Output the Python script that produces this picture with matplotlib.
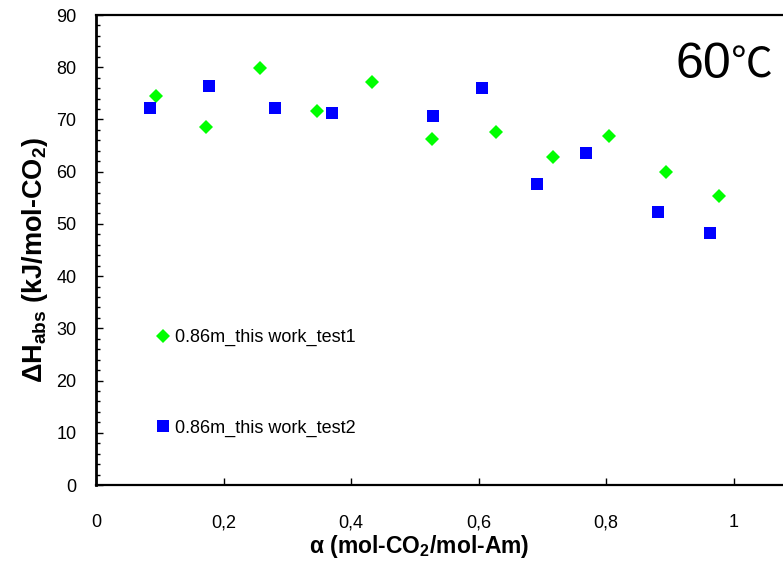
import matplotlib
matplotlib.use("Agg")
import matplotlib.pyplot as plt
from matplotlib.ticker import MultipleLocator, FuncFormatter

plt.rcParams['font.family'] = ['Liberation Sans', 'DejaVu Sans']
plt.rcParams['mathtext.fontset'] = 'custom'
plt.rcParams['mathtext.rm'] = 'Liberation Sans:bold'
plt.rcParams['mathtext.bf'] = 'Liberation Sans:bold'
plt.rcParams['mathtext.it'] = 'Liberation Sans:bold'

# loading (mol CO2 / mol amine) and absorption heat (kJ/mol CO2)
alpha_test1 = [0.094, 0.173, 0.257, 0.346, 0.433, 0.527, 0.628, 0.717, 0.804, 0.894, 0.977]
dh_test1 = [74.5, 68.5, 79.9, 71.6, 77.1, 66.3, 67.6, 62.8, 66.9, 60.0, 55.3]
alpha_test2 = [0.085, 0.177, 0.280, 0.370, 0.529, 0.605, 0.692, 0.768, 0.881, 0.963]
dh_test2 = [72.1, 76.5, 72.1, 71.2, 70.7, 76.1, 57.6, 63.6, 52.2, 48.3]

label1 = "0.86m_this work_test1"
label2 = "0.86m_this work_test2"

fig = plt.figure(figsize=(7.83, 5.63), dpi=100)
ax = fig.add_axes([96/783, 1 - 485/563, 1 - 96/783, 470/563])

ax.plot(alpha_test1, dh_test1, 'D', color='#00ff00', ms=7.2, mew=0, label=label1)
ax.plot(alpha_test2, dh_test2, 's', color='#0000ff', ms=8, mew=0, label=label2)

ax.set_xlim(0, 687/637.5)
ax.set_ylim(0, 90)
ax.xaxis.set_major_locator(MultipleLocator(0.2))
ax.xaxis.set_major_formatter(FuncFormatter(lambda v, p: ('%g' % round(v, 2)).replace('.', ',')))
ax.yaxis.set_major_locator(MultipleLocator(10))
ax.yaxis.set_minor_locator(MultipleLocator(2))

ax.spines['right'].set_visible(False)
ax.spines['left'].set_linewidth(2.0)
ax.spines['bottom'].set_linewidth(1.6)
ax.spines['top'].set_linewidth(1.6)
ax.tick_params(axis='y', which='major', direction='in', length=5, width=1, labelsize=13, pad=14)
ax.tick_params(axis='y', which='minor', direction='in', length=3, width=1)
ax.tick_params(axis='x', which='major', direction='in', length=5, width=1, labelsize=13, pad=21)

ax.set_xlabel(r'α (mol-CO$_\mathrm{2}$/mol-Am)', fontsize=16.5, fontweight='bold', va='center')
ax.xaxis.set_label_coords(0.47, -0.13)
ax.set_ylabel(r'$\Delta$H$_\mathrm{abs}$ (kJ/mol-CO$_\mathrm{2}$)', fontsize=19.5, fontweight='bold', va='center')
ax.yaxis.set_label_coords(-0.089, 0.48)

ax.text(0.843, 0.866, '60', transform=ax.transAxes, fontsize=36, ha='left', va='baseline')
ax.text(0.925, 0.866, '℃', transform=ax.transAxes, fontsize=30, ha='left', va='baseline',
        family=['Noto Sans CJK JP', 'DejaVu Sans'])

ax.legend(loc='center left', bbox_to_anchor=(0.089, 0.217), frameon=False, fontsize=13,
          handlelength=0.6, handletextpad=0.4, labelspacing=4.05, borderaxespad=0, borderpad=0)

fig.savefig('out.png', dpi=100)
